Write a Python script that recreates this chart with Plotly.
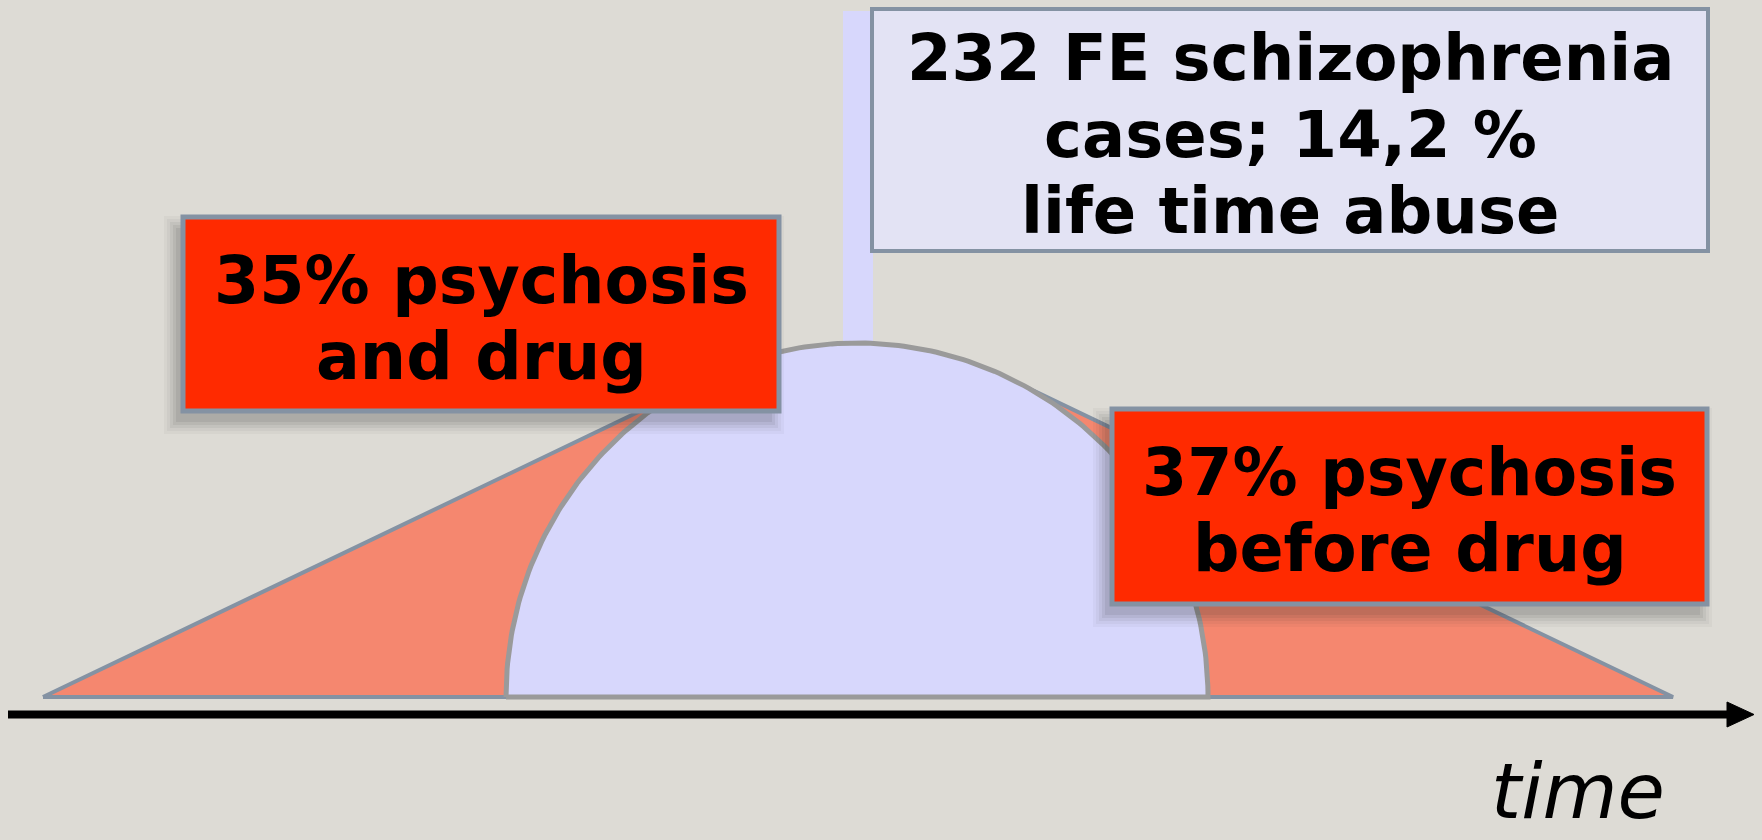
import numpy as np
import plotly.graph_objects as go

W, H = 1762, 840
BG = "#dddbd5"

# ---- diagram content (in page pixels) ----
baseline_y = 697
drug_window = [43, 1673]              # ends of the drug-use triangle on the time axis
episode_center = 857                  # centre of the psychotic-episode dome
episode_radius = [351, 354]           # horizontal / vertical radius of the dome
stem_x = [843, 873]                   # stem joining dome and info box
stem_top = 11

info_lines = ["232 FE schizophrenia", "cases; 14,2 %", "life time abuse"]
left_lines = ["35% psychosis", "and drug"]
right_lines = ["37% psychosis", "before drug"]
axis_label = "time"

# ---- layout of boxes ----
info_box = dict(x0=872, y0=9, x1=1708, y1=251)
left_box = dict(x0=183, y0=217, x1=779, y1=411)
right_box = dict(x0=1112, y0=409, x1=1707, y1=604)

SALMON = "#f5876f"
SALMON_EDGE = "#8492a3"
LAV = "#d7d7fc"
DOME_EDGE = "#9a9a9a"
INFO_FILL = "#e3e3f4"
RED = "#ff2a00"
BOX_EDGE = "#8492a3"

fig = go.Figure()

cx = episode_center
rx, ry = episode_radius
r = (rx + ry) / 2.0

# drug-use shape: tangent lines from the ends of the window onto the dome
phi_l = np.arccos(r / (cx - drug_window[0]))
phi_r = np.arccos(r / (drug_window[1] - cx))
th = np.linspace(np.pi - phi_l, phi_r, 120)
sx = [drug_window[0]] + list(cx + r * np.cos(th)) + [drug_window[1], drug_window[0]]
sy = [baseline_y] + list(baseline_y - r * np.sin(th)) + [baseline_y, baseline_y]
fig.add_trace(go.Scatter(x=sx, y=sy, mode="lines", fill="toself", fillcolor=SALMON,
                         line=dict(color=SALMON_EDGE, width=4), hoverinfo="skip",
                         showlegend=False))

# dome (half ellipse)
t = np.linspace(np.pi, 0, 200)
dx = list(cx + rx * np.cos(t)) + [cx - rx]
dy = list(baseline_y - ry * np.sin(t)) + [baseline_y]
fig.add_trace(go.Scatter(x=dx, y=dy, mode="lines", fill="toself", fillcolor=LAV,
                         line=dict(color=DOME_EDGE, width=5), hoverinfo="skip",
                         showlegend=False))

shapes = []
# stem (under the dome)
shapes.append(dict(type="rect", layer="below", x0=stem_x[0], x1=stem_x[1], y0=stem_top,
                   y1=baseline_y - ry + 10, fillcolor=LAV, line=dict(width=0)))
# info box
shapes.append(dict(type="rect", layer="above", **info_box, fillcolor=INFO_FILL,
                   line=dict(color=BOX_EDGE, width=4)))
# red boxes with soft shadow (offset left/down, blurred by layering)
for b in (left_box, right_box):
    ox, oy = -7, 11
    for grow, a in ((12, 0.035), (9, 0.045), (6, 0.06), (3, 0.07), (0, 0.08)):
        shapes.append(dict(type="rect", layer="above",
                           x0=b["x0"] + ox - grow, x1=b["x1"] + ox + grow,
                           y0=b["y0"] + oy - grow, y1=b["y1"] + oy + grow,
                           fillcolor=f"rgba(40,40,40,{a})", line=dict(width=0)))
    shapes.append(dict(type="rect", layer="above", **b, fillcolor=RED,
                       line=dict(color=BOX_EDGE, width=5)))
# time axis with arrow
shapes.append(dict(type="line", layer="above", x0=8, x1=1732, y0=714.5, y1=714.5,
                   line=dict(color="black", width=8)))
shapes.append(dict(type="path", layer="above", path="M 1727 702 L 1754 714.5 L 1727 727 Z",
                   fillcolor="black", line=dict(color="black", width=1)))

annotations = []
FONT = "DejaVu Sans"

def add_lines(lines, box, first_center, step, size):
    xc = (box["x0"] + box["x1"]) / 2
    for i, txt in enumerate(lines):
        annotations.append(dict(x=xc, y=first_center + i * step, xref="x", yref="y",
                                text=f"<b>{txt}</b>", showarrow=False,
                                xanchor="center", yanchor="middle",
                                font=dict(family=FONT, size=size, color="black")))

add_lines(info_lines, info_box, 58, 76.5, 64)
add_lines(left_lines, left_box, 280, 76, 65)
add_lines(right_lines, right_box, 472, 76, 65)

annotations.append(dict(x=1578, y=838, xref="x", yref="y", text=f"<i>{axis_label}</i>",
                        showarrow=False, xanchor="center", yanchor="bottom",
                        font=dict(family=FONT, size=77, color="black")))

fig.update_layout(
    width=W, height=H, margin=dict(l=0, r=0, t=0, b=0),
    paper_bgcolor=BG, plot_bgcolor=BG,
    xaxis=dict(range=[0, W], visible=False, fixedrange=True),
    yaxis=dict(range=[H, 0], visible=False, fixedrange=True),
    shapes=shapes, annotations=annotations, showlegend=False,
)

fig.write_html("out.html", config={"displayModeBar": False},
               post_script="document.body.style.margin='0';document.body.style.overflow='hidden';")
